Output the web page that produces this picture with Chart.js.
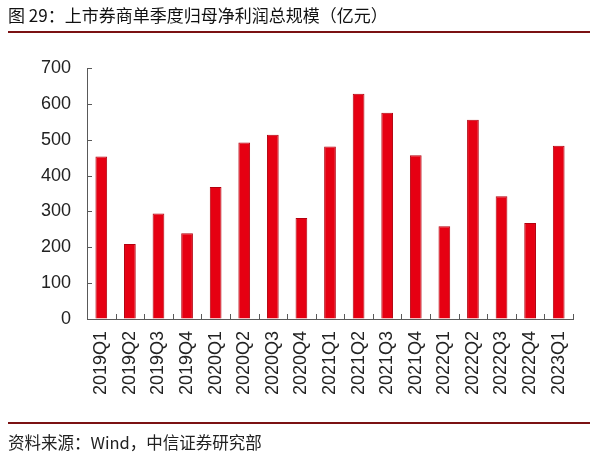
<!DOCTYPE html>
<html>
<head>
<meta charset="utf-8">
<script src="https://cdn.jsdelivr.net/npm/chart.js@4.4.0/dist/chart.umd.min.js"></script>
<style>
  html, body { margin:0; padding:0; background:#fff; }
  #wrap { position:relative; width:600px; height:466px; overflow:hidden; }
  #title { position:absolute; left:8px; top:3px; font-family:"Noto Sans CJK SC", sans-serif; font-size:17px; color:#111; white-space:nowrap; line-height:24px; }
  #topline { position:absolute; left:8px; width:582px; top:31px; height:2px; background:#7b1113; }
  #botline { position:absolute; left:8px; width:582px; top:422px; height:2px; background:#7b1113; }
  #source { position:absolute; left:8px; top:430px; font-family:"Noto Sans CJK SC", sans-serif; font-size:16.5px; color:#222; white-space:nowrap; line-height:24px; }
  canvas { position:absolute; left:0; top:0; }
</style>
</head>
<body>
<div id="wrap">
  <canvas id="c" width="600" height="466"></canvas>
  <div id="title">图 29：上市券商单季度归母净利润总规模（亿元）</div>
  <div id="topline"></div>
  <div id="botline"></div>
  <div id="source">资料来源：Wind，中信证券研究部</div>
</div>
<script>
const categories = ["2019Q1","2019Q2","2019Q3","2019Q4","2020Q1","2020Q2","2020Q3","2020Q4","2021Q1","2021Q2","2021Q3","2021Q4","2022Q1","2022Q2","2022Q3","2022Q4","2023Q1"];
const netProfit = [453, 209, 294, 239, 368, 492, 514, 282, 481, 628, 575, 457, 259, 556, 342, 268, 483];
const yTicks = [0, 100, 200, 300, 400, 500, 600, 700];

const axisColor = '#595959';

const innerTicks = {
  id: 'innerTicks',
  afterDraw(chart) {
    const ctx = chart.ctx, xs = chart.scales.x, ys = chart.scales.y;
    ctx.save();
    ctx.strokeStyle = axisColor;
    ctx.lineWidth = 1;
    ys.ticks.forEach((t, i) => {
      const py = Math.round(ys.getPixelForTick(i)) + 0.5;
      ctx.beginPath(); ctx.moveTo(ys.right, py); ctx.lineTo(ys.right + 5, py); ctx.stroke();
    });
    for (let i = 0; i <= categories.length; i++) {
      const px = Math.round(xs.getPixelForValue(i - 0.5)) + 0.5;
      ctx.beginPath(); ctx.moveTo(px, xs.top); ctx.lineTo(px, xs.top - 5); ctx.stroke();
    }
    ctx.restore();
  }
};

new Chart(document.getElementById('c'), {
  type: 'bar',
  data: {
    labels: categories,
    datasets: [{
      data: netProfit,
      backgroundColor: '#e60012',
      borderColor: '#b3000e',
      borderWidth: 1,
      categoryPercentage: 1,
      barPercentage: 0.41
    }]
  },
  options: {
    responsive: false,
    animation: false,
    layout: { padding: { top: 68, right: 27, left: 0, bottom: 0 } },
    plugins: { legend: { display: false }, tooltip: { enabled: false }, title: { display: false } },
    scales: {
      x: {
        grid: { display: true, drawOnChartArea: false, drawTicks: false, offset: true },
        border: { display: true, color: axisColor, width: 1 },
        ticks: {
          minRotation: 90, maxRotation: 90, padding: 12, autoSkip: false,
          color: '#222', font: { family: 'Liberation Sans, Arial, sans-serif', size: 18 }
        },
        afterFit(scale) { scale.height = 147; }
      },
      y: {
        min: 0, max: 700,
        afterBuildTicks(scale) { scale.ticks = yTicks.map(v => ({ value: v })); },
        grid: { display: true, drawOnChartArea: false, drawTicks: false },
        border: { display: true, color: axisColor, width: 1 },
        ticks: {
          padding: 16, color: '#222',
          font: { family: 'Liberation Sans, Arial, sans-serif', size: 18 }
        },
        afterFit(scale) { scale.width = 87; }
      }
    }
  },
  plugins: [innerTicks]
});
</script>
</body>
</html>
